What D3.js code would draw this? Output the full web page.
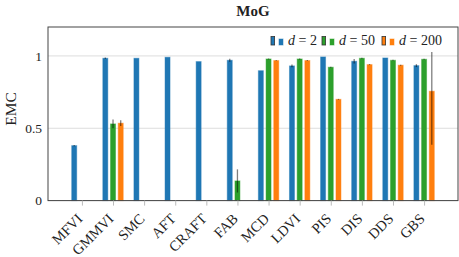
<!DOCTYPE html>
<html><head><meta charset="utf-8">
<script src="https://cdn.jsdelivr.net/npm/d3@7"></script>
<style>body{margin:0;background:#fff}svg{display:block}text{font-family:"Liberation Serif","DejaVu Serif","Times New Roman",serif;fill:#222}</style>
</head><body><svg id="c" width="459" height="257"></svg>
<script>
const categories = ["MFVI","GMMVI","SMC","AFT","CRAFT","FAB","MCD","LDVI","PIS","DIS","DDS","GBS"];
const dims = ["2","50","200"];
const d2 = [0.38, 0.984, 0.984, 0.991, 0.961, 0.970, 0.898, 0.931, 0.993, 0.963, 0.986, 0.933];
const d2err = [0.005, 0.005, 0, 0, 0, 0.01, 0, 0.01, 0, 0.015, 0, 0.01];
const d50 = [null, 0.53, null, null, null, 0.136, 0.979, 0.979, 0.922, 0.984, 0.970, 0.977];
const d50err = [0, 0.03, 0, 0, 0, 0.08, 0.003, 0.003, 0.003, 0.003, 0.003, 0.003];
const d200 = [null, 0.535, null, null, null, null, 0.968, 0.968, 0.70, 0.94, 0.936, 0.756];
const d200err = [0, 0.02, 0, 0, 0, 0, 0.003, 0.003, 0.003, 0.003, 0.003, 0.37];
const colors = ["#1f77b4", "#2ca02c", "#ff7f0e"];
const yTicks = [0, 0.5, 1];
const yTickLabels = ["0", "0.5", "1"];

const FONT = '"Liberation Serif","DejaVu Serif",serif';
const svg = d3.select("#c");
const L = 48, R = 458, T = 27, B = 200.6;
const x = d3.scalePoint().domain(categories).range([L, R]).padding(1.09);
const y = d3.scaleLinear().domain([0, 1.2]).range([B, T]);
const off = d3.scalePoint().domain([0,1,2]).range([-7.7, 7.7]);
const bw = 5;

// grid
svg.append("g").selectAll("line").data(yTicks).join("line")
  .attr("x1", L).attr("x2", R).attr("y1", d => y(d)).attr("y2", d => y(d))
  .attr("stroke", "#d9d9d9").attr("stroke-width", 0.9);

const series = [[d2, d2err], [d50, d50err], [d200, d200err]];
series.forEach(([vals, errs], si) => {
  const data = categories.map((c, i) => ({c, v: vals[i], e: errs[i]})).filter(d => d.v != null);
  const g = svg.append("g");
  g.selectAll("rect").data(data).join("rect")
    .attr("x", d => x(d.c) + off(si) - bw / 2)
    .attr("width", bw)
    .attr("y", d => y(d.v))
    .attr("height", d => y(0) - y(d.v))
    .attr("fill", colors[si])
    .attr("stroke", colors[si]).attr("stroke-opacity", 0.45).attr("stroke-width", 1);
  g.selectAll("line").data(data.filter(d => d.e > 0)).join("line")
    .attr("x1", d => x(d.c) + off(si)).attr("x2", d => x(d.c) + off(si))
    .attr("y1", d => y(d.v + d.e)).attr("y2", d => y(Math.max(0, d.v - d.e)))
    .attr("stroke", "#000").attr("stroke-opacity", 0.5).attr("stroke-width", 1.3);
});

// frame
svg.append("rect").attr("x", L).attr("y", T).attr("width", R - L).attr("height", B - T)
  .attr("fill", "none").attr("stroke", "#444").attr("stroke-width", 1);

// x axis
const xAxis = svg.append("g").attr("transform", `translate(0,${B})`)
  .call(d3.axisBottom(x).tickSize(5).tickPadding(4));
xAxis.attr("font-family", FONT);
xAxis.select(".domain").remove();
xAxis.selectAll(".tick line").attr("stroke", "#bbb");
xAxis.selectAll(".tick text")
  .attr("font-size", 14.5).attr("text-anchor", "end")
  .attr("dy", null).attr("y", 0).attr("x", 0)
  .attr("transform", "translate(1,19) rotate(-45)")
  .style("font-family", FONT).attr("fill", "#222");

// y axis
const yAxis = svg.append("g").attr("transform", `translate(${L},0)`)
  .call(d3.axisLeft(y).tickValues(yTicks).tickFormat((d, i) => yTickLabels[i]).tickSize(0).tickPadding(6));
yAxis.attr("font-family", FONT);
yAxis.select(".domain").remove();
yAxis.selectAll(".tick text").attr("font-size", 13.5).style("font-family", FONT).attr("fill", "#222");

// y label
svg.append("text").attr("transform", `translate(16,109) rotate(-90)`)
  .attr("text-anchor", "middle").attr("font-size", 15.5).style("font-family", FONT).text("EMC");

// title
svg.append("text").attr("x", (L + R) / 2).attr("y", 16).attr("text-anchor", "middle")
  .attr("font-size", 15).attr("font-weight", "bold").style("font-family", FONT).text("MoG");

// legend
const lg = svg.append("g");
lg.append("rect").attr("x", 266).attr("y", 29).attr("width", 186).attr("height", 23).attr("fill", "#fff");
const legX = [271, 322, 382];
dims.forEach((n, i) => {
  const gx = legX[i];
  lg.append("rect").attr("x", gx).attr("y", 36.5).attr("width", 3.6).attr("height", 8.5)
    .attr("fill", colors[i]).attr("stroke", "#333").attr("stroke-width", 0.8);
  lg.append("rect").attr("x", gx + 8).attr("y", 39).attr("width", 4).attr("height", 6)
    .attr("fill", colors[i]).attr("stroke", colors[i]).attr("stroke-opacity", 0.5);
  const t = lg.append("text").attr("x", gx + 17).attr("y", 45).attr("font-size", 14).style("font-family", FONT);
  t.append("tspan").attr("font-style", "italic").text("d");
  t.append("tspan").text(" = " + n);
});
</script></body></html>
